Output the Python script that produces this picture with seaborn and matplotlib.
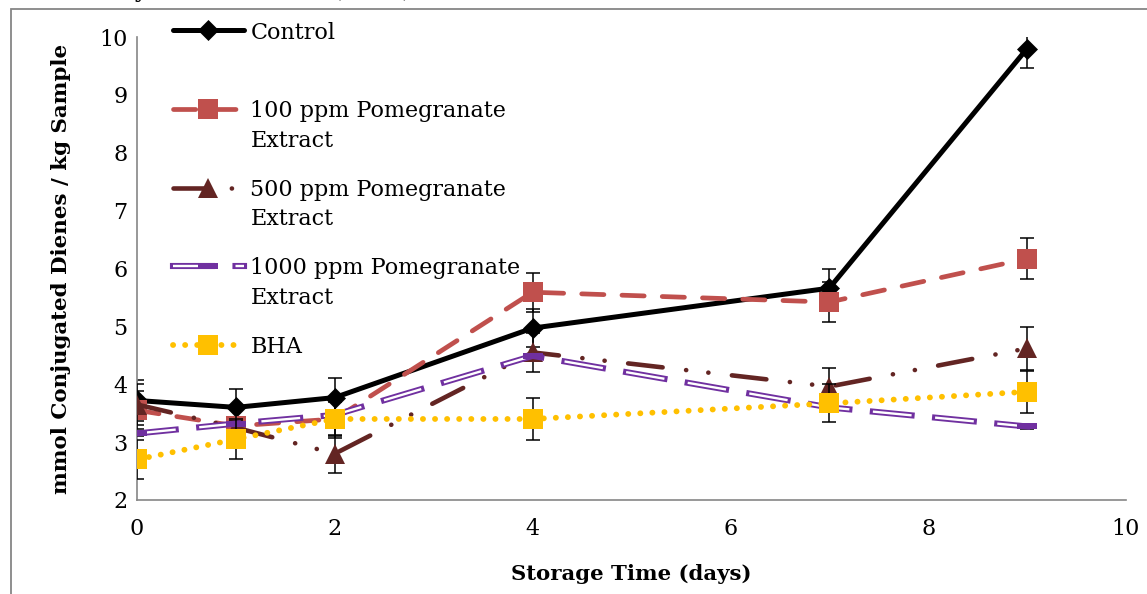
import matplotlib
matplotlib.use("Agg")
import matplotlib.pyplot as plt
import matplotlib.patheffects as pe
from matplotlib.path import Path
from matplotlib.patches import Rectangle
import seaborn as sns

# Conjugated diene content over storage (mmol / kg sample), mean and error
days = [0, 1, 2, 4, 7, 9]

control = [3.72, 3.60, 3.77, 4.97, 5.66, 9.80]
control_err = [0.35, 0.32, 0.34, 0.33, 0.33, 0.34]

ppm100 = [3.55, 3.28, 3.40, 5.59, 5.42, 6.17]
ppm100_err = [0.33, 0.33, 0.33, 0.34, 0.34, 0.35]

ppm500 = [3.65, 3.25, 2.80, 4.55, 3.96, 4.62]
ppm500_err = [0.35, 0.33, 0.33, 0.34, 0.32, 0.37]

ppm1000 = [3.15, 3.32, 3.47, 4.49, 3.60, 3.27]
ppm1000_err = [0.04, 0.04, 0.04, 0.04, 0.04, 0.04]

bha = [2.70, 3.05, 3.40, 3.40, 3.67, 3.87]
bha_err = [0.34, 0.35, 0.30, 0.36, 0.33, 0.36]

series_labels = [
    "Control",
    "100 ppm Pomegranate\nExtract",
    "500 ppm Pomegranate\nExtract",
    "1000 ppm Pomegranate\nExtract",
    "BHA",
]
x_ticks = [0, 2, 4, 6, 8, 10]
y_ticks = [2, 3, 4, 5, 6, 7, 8, 9, 10]

sns.set_style("white")
plt.rcParams["font.family"] = ["DejaVu Serif"]
plt.rcParams["lines.scale_dashes"] = False
plt.rcParams["text.color"] = "black"
plt.rcParams["axes.labelcolor"] = "black"

GRAY = "#868686"
FS = 16

fig = plt.figure(figsize=(11.47, 5.94), dpi=100)
ax = fig.add_axes([137 / 1147, 1 - 500 / 594, 989 / 1147, 463 / 594])

def add_errors(vals, err, z):
    ax.errorbar(days, vals, yerr=err, fmt="none", ecolor="black",
                elinewidth=1.1, capsize=5, capthick=1.1, zorder=z)

# Control
add_errors(control, control_err, 2.0)
sns.lineplot(x=days, y=control, ax=ax, color="black", linewidth=3.6,
             marker="D", markersize=10, markeredgecolor="black",
             markeredgewidth=0.5, label=series_labels[0], zorder=2.5)
h_control = ax.lines[-1]

# 100 ppm
add_errors(ppm100, ppm100_err, 3.0)
sns.lineplot(x=days, y=ppm100, ax=ax, color="#C0504D", linewidth=3.4,
             linestyle=(0, (16, 13)), dash_capstyle="round",
             marker="s", markersize=14, markeredgewidth=0,
             label=series_labels[1], zorder=3.5)
h_100 = ax.lines[-1]

# 500 ppm
add_errors(ppm500, ppm500_err, 4.0)
sns.lineplot(x=days, y=ppm500, ax=ax, color="#632523", linewidth=3.3,
             linestyle=(0, (25, 17, 0.1, 16, 0.1, 17)), dash_capstyle="round",
             marker="^", markersize=14, markeredgewidth=0,
             label=series_labels[2], zorder=4.5)
h_500 = ax.lines[-1]

# 1000 ppm: hollow (outlined) dashed line with bar-shaped markers
add_errors(ppm1000, ppm1000_err, 5.0)
sns.lineplot(x=days, y=ppm1000, ax=ax, color="white", linewidth=1.7,
             linestyle=(0, (28, 17)), dash_capstyle="butt",
             label=series_labels[3], zorder=5.5,
             path_effects=[pe.Stroke(linewidth=4.4, foreground="#7030A0",
                                     capstyle="projecting"),
                           pe.Normal()])
h_1000_line = ax.lines[-1]
bar_marker = Path([[-1, -0.3], [1, -0.3], [1, 0.3], [-1, 0.3], [-1, -0.3]],
                  [Path.MOVETO, Path.LINETO, Path.LINETO, Path.LINETO,
                   Path.CLOSEPOLY])
sns.lineplot(x=days, y=ppm1000, ax=ax, color="#7030A0", linestyle="none",
             marker=bar_marker, markersize=14, markeredgewidth=0,
             zorder=5.6)
h_1000_mark = ax.lines[-1]

# BHA
add_errors(bha, bha_err, 6.0)
sns.lineplot(x=days, y=bha, ax=ax, color="#FFC000", linewidth=4.2,
             linestyle=(0, (0.1, 8.6)), dash_capstyle="round",
             marker="s", markersize=14, markeredgewidth=0,
             label=series_labels[4], zorder=6.5)
h_bha = ax.lines[-1]

# Axes styling
ax.set_xlim(0, 10)
ax.set_ylim(2, 10)
ax.set_xticks(x_ticks)
ax.set_yticks(y_ticks)
ax.grid(False)
for side in ("top", "right"):
    ax.spines[side].set_visible(False)
for side in ("left", "bottom"):
    ax.spines[side].set_color(GRAY)
    ax.spines[side].set_linewidth(1.2)
ax.tick_params(axis="both", direction="out", color=GRAY, width=1.2,
               length=5, labelsize=16, labelcolor="black")
ax.tick_params(axis="y", pad=2)
ax.tick_params(axis="x", pad=8)

ax.set_xlabel("Storage Time (days)", fontsize=15.3, fontweight="bold",
              labelpad=17)
ax.set_ylabel("mmol Conjugated Dienes / kg Sample", fontsize=15.4,
              fontweight="bold", labelpad=20)

# Legend: every entry is two lines tall, handle level with the first line
legend_text = [lab if "\n" in lab else lab + "\n" for lab in series_labels]
handles = [h_control, h_100, h_500, (h_1000_line, h_1000_mark), h_bha]
leg = ax.legend(handles, legend_text, loc="upper left",
                bbox_to_anchor=(0.036, 1.033), frameon=False, fontsize=FS,
                handlelength=3.2, handleheight=1.0, handletextpad=0.3,
                borderpad=0, borderaxespad=0, labelspacing=1.22)
for t in leg.get_texts():
    t.set_linespacing(1.44)
    t.set_color("black")
for column in leg._legend_handle_box.get_children():
    for entry in column.get_children():
        entry.align = "top"

# Chart-area frame and the clipped heading above it
fig.add_artist(Rectangle((10.5 / 1147, -0.05), 1.2, 1.05 - 8.5 / 594,
                         transform=fig.transFigure, fill=False,
                         edgecolor=GRAY, linewidth=1.3))
fig.text(36 / 1147, 1 + 3 / 594, "Model System Stored at (50\u00b0C)",
         fontsize=17, va="baseline", ha="left", color="black")

fig.savefig("out.png", dpi=100)
